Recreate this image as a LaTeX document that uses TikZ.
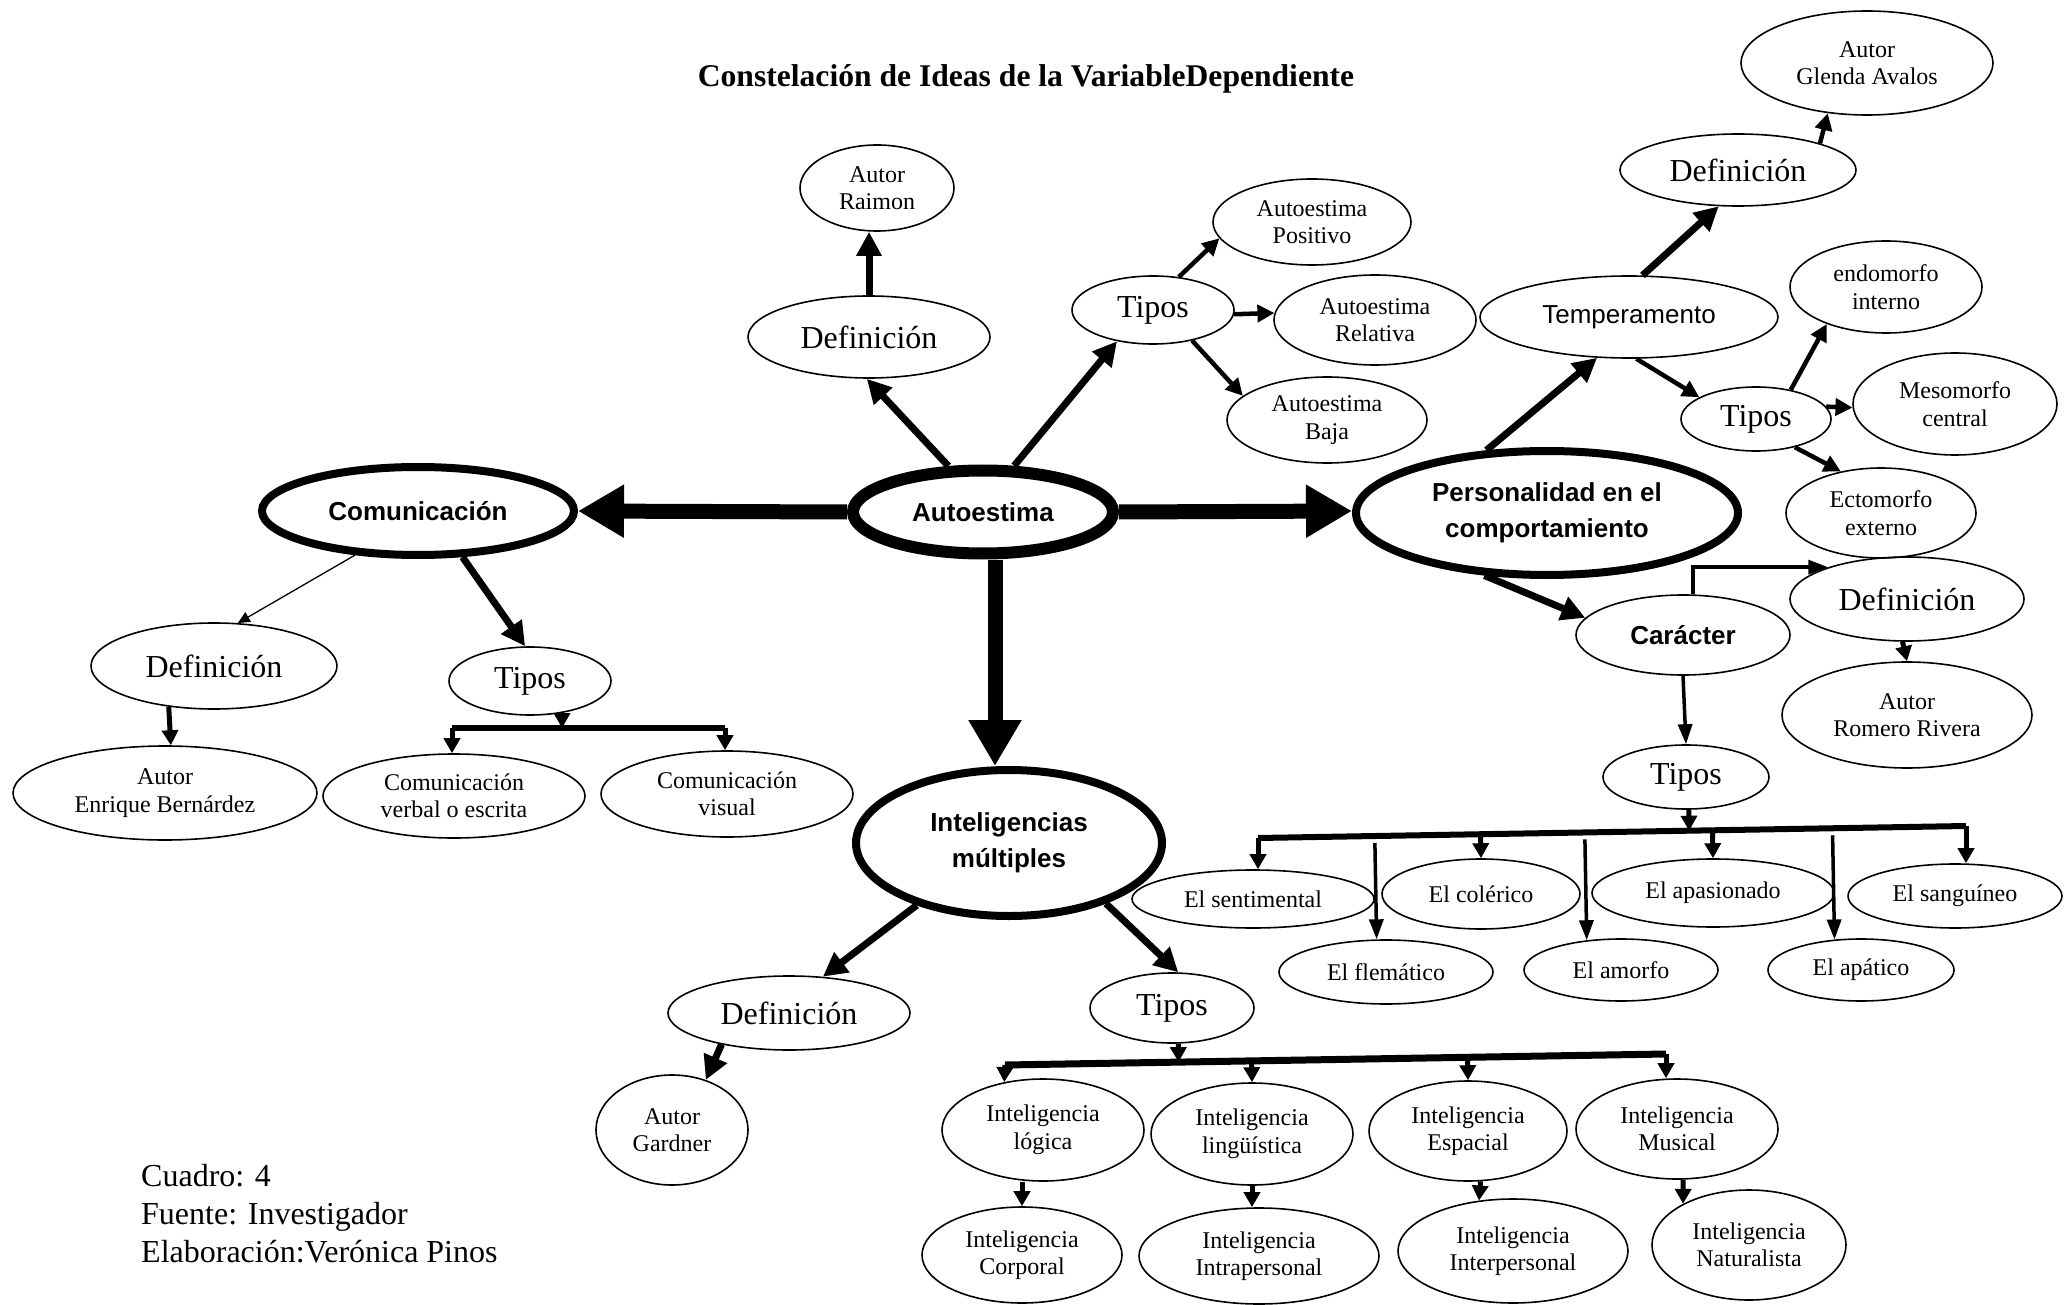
\documentclass[tikz,border=0pt]{standalone}
\usepackage{fontspec}
\setmainfont{Liberation Serif}
\setsansfont{Liberation Sans}
\usetikzlibrary{shapes.geometric,arrows.meta,calc}
\begin{document}
\begin{tikzpicture}[x=1pt,y=-1pt,
  ov/.style={ellipse,draw,line width=1.6pt,inner sep=0pt,align=center},
  sz/.style 2 args={minimum width=#1pt,minimum height=#2pt},
  big/.style={font=\fontsize{32}{36}\selectfont},
  sml/.style={font=\fontsize{24}{27.5}\selectfont},
  lbl/.style={font=\sffamily\bfseries\fontsize{26}{36}\selectfont},
  hub/.style={line width=8pt},
  abig/.style={line width=15pt,-{Triangle[length=46pt,width=50pt]}},
  amed/.style={line width=7pt,-{Triangle[length=24pt,width=24pt]}},
  asml/.style={line width=4.5pt,-{Triangle[length=17pt,width=17pt]}},
  astub/.style={line width=5pt,-{Triangle[length=15pt,width=16pt]}},
  athin/.style={line width=1.3pt,-{Triangle[length=12pt,width=11pt]}},
  along/.style={line width=3.5pt,-{Triangle[length=20pt,width=14pt]}},
  tbar/.style={line width=6pt}
]
\useasboundingbox (0,0) rectangle (2065,1305);
\fill[white] (0,0) rectangle (2065,1305);

\node[font=\bfseries\fontsize{31.6}{36}\selectfont] (title) at (1026,79) {Constelación de Ideas de la VariableDependiente};

% hubs
\node[ov,lbl,line width=12pt,sz={260}{83}] (auto) at (983,512) {Autoestima};
\node[ov,lbl,hub,sz={312}{88}] (com) at (418,511) {Comunicación};
\node[ov,lbl,hub,sz={382}{124}] (pers) at (1547,513) {Personalidad en el\\comportamiento};
\node[ov,lbl,hub,sz={306}{146}] (intm) at (1009,843) {Inteligencias\\múltiples};

% Autoestima branch
\node[ov,big,sz={242}{82}] (defA) at (869,337) {Definición};
\node[ov,sml,sz={154}{86}] (raimon) at (877,188) {Autor\\Raimon};
\node[ov,big,sz={162}{68}] (tiposA) at (1153,310) {Tipos};
\node[ov,sml,sz={198}{86}] (pos) at (1312,222) {Autoestima\\Positivo};
\node[ov,sml,sz={202}{90}] (rel) at (1375,320) {Autoestima\\Relativa};
\node[ov,sml,sz={200}{86}] (baja) at (1327,420) {Autoestima\\Baja};

% Comunicacion branch
\node[ov,big,sz={246}{86}] (defC) at (214,666) {Definición};
\node[ov,sml,sz={304}{94}] (enr) at (165,793) {Autor\\Enrique Bernárdez};
\node[ov,big,sz={162}{68}] (tiposC) at (530,681) {Tipos};
\node[ov,sml,sz={262}{84}] (verbal) at (454,796) {Comunicación\\verbal o escrita};
\node[ov,sml,sz={252}{86}] (visual) at (727,794) {Comunicación\\visual};

% Personalidad branch
\node[ov,font=\sffamily\fontsize{26}{30}\selectfont,sz={298}{82}] (temp) at (1629,317) {Temperamento};
\node[ov,big,sz={236}{72}] (defT) at (1738,170) {Definición};
\node[ov,sml,sz={252}{104}] (glenda) at (1867,63) {Autor\\Glenda Avalos};
\node[ov,big,sz={150}{64}] (tiposT) at (1756,419) {Tipos};
\node[ov,sml,sz={192}{92}] (endo) at (1886,287) {endomorfo\\interno};
\node[ov,sml,sz={204}{102}] (meso) at (1955,404) {Mesomorfo\\central};
\node[ov,sml,sz={190}{90}] (ecto) at (1881,513) {Ectomorfo\\externo};
\node[ov,lbl,sz={214}{80}] (car) at (1683,635) {Carácter};
\node[ov,big,sz={234}{84}] (defK) at (1907,599) {Definición};
\node[ov,sml,sz={250}{106}] (romero) at (1907,715) {Autor\\Romero Rivera};
\node[ov,big,sz={166}{64}] (tiposK) at (1686,777) {Tipos};
\node[ov,sml,sz={242}{58}] (sent) at (1253,899) {El sentimental};
\node[ov,sml,sz={198}{70}] (col) at (1481,894) {El colérico};
\node[ov,sml,sz={242}{68}] (apas) at (1713,893) {El apasionado};
\node[ov,sml,sz={214}{64}] (sang) at (1955,896) {El sanguíneo};
\node[ov,sml,sz={214}{64}] (flem) at (1386,972) {El flemático};
\node[ov,sml,sz={194}{62}] (amorfo) at (1621,970) {El amorfo};
\node[ov,sml,sz={186}{62}] (apat) at (1861,970) {El apático};

% Inteligencias branch
\node[ov,big,sz={242}{74}] (defI) at (789,1013) {Definición};
\node[ov,sml,sz={152}{110}] (gardner) at (672,1130) {Autor\\Gardner};
\node[ov,big,sz={164}{70}] (tiposI) at (1172,1008) {Tipos};
\node[ov,sml,sz={202}{102}] (logica) at (1043,1130) {Inteligencia\\lógica};
\node[ov,sml,sz={202}{102}] (ling) at (1252,1134) {Inteligencia\\lingüística};
\node[ov,sml,sz={198}{100}] (esp) at (1468,1131) {Inteligencia\\Espacial};
\node[ov,sml,sz={202}{100}] (mus) at (1677,1129) {Inteligencia\\Musical};
\node[ov,sml,sz={200}{96}] (corp) at (1022,1255) {Inteligencia\\Corporal};
\node[ov,sml,sz={240}{96}] (intra) at (1259,1256) {Inteligencia\\Intrapersonal};
\node[ov,sml,sz={230}{104}] (inter) at (1513,1251) {Inteligencia\\Interpersonal};
\node[ov,sml,sz={194}{110}] (nat) at (1749,1245) {Inteligencia\\Naturalista};

% footer
\node[anchor=north west,align=left,inner sep=0pt,font=\fontsize{32}{38}\selectfont] (foot) at (141,1164) {Cuadro: 4\\Fuente: Investigador\\Elaboración:Verónica Pinos};

% big arrows
\draw[abig] (auto.west) -- (com.east);
\draw[abig] (auto.east) -- ([yshift=2pt]pers.west);
\draw[abig] ([xshift=12pt]auto.south) -- ([xshift=-14pt]intm.north);

% Autoestima arrows
\draw[amed] (auto.127) -- (defA.267);
\draw[amed] (auto.56) -- (tiposA.221);
\draw[amed] (defA.north) -- (defA.north |- raimon.south);
\draw[asml] (tiposA.52) -- (pos.190);
\draw[asml] (tiposA.357) -- (rel.176);
\draw[asml] (tiposA.322) -- (baja.164);

% Comunicacion arrows
\draw[athin] (com.215) -- (defC.61);
\draw[amed] (com.314) -- (tiposC.98);
\draw[astub] (defC.222) -- (enr.83);
\coordinate (cL) at (452,728);
\coordinate (cR) at (725,728);
\draw[tbar] (cL) -- (cR);
\draw[astub] (tiposC.-45) -- (tiposC.-45 |- cL);
\draw[astub] (cL) -- (cL |- verbal.north);
\draw[astub] (cR) -- (cR |- visual.north);

% Personalidad arrows
\draw[amed] (pers.134) -- (temp.232);
\draw[amed] (temp.72) -- (defT.242);
\draw[asml] (defT.18) -- (glenda.232);
\draw[asml] (temp.-80) -- (tiposT.159);
\draw[asml] (tiposT.40) -- (endo.212);
\draw[asml] (tiposT.10) -- (meso.182);
\draw[asml] (tiposT.-36) -- (ecto.134);
\draw[amed] (pers.225) -- (car.170);
\draw[along] (car.76) |- (defK.158);
\draw[astub] (defK.-96) -- (romero.north);
\draw[along] (car.south) -- (tiposK.north);
\coordinate (kL) at (1258,838);
\coordinate (kR) at (1966,826);
\draw[tbar] (kL) -- (kR);
\draw[astub] (tiposK.-85) -- ($(kL)!(tiposK.-85)!(kR)$);
\draw[astub] (kL) -- (kL |- sent.north);
\draw[astub] ($(kL)!(col.north)!(kR)$) -- (col.north);
\draw[astub] ($(kL)!(apas.north)!(kR)$) -- (apas.north);
\draw[astub] (kR) -- (kR |- sang.north);
\draw[along] ($(kL)!(flem.106)!(kR)+(0,7)$) -- (flem.106);
\draw[along] ($(kL)!(amorfo.139)!(kR)+(0,7)$) -- (amorfo.139);
\draw[along] ($(kL)!(apat.131)!(kR)+(0,7)$) -- (apat.131);

% Inteligencias arrows
\draw[amed] (intm.214) -- (defI.47);
\draw[amed] (intm.328) -- (tiposI.80);
\draw[amed] (defI.205) -- (gardner.56);
\coordinate (iL) at (1005,1065);
\coordinate (iR) at (1666,1054);
\draw[tbar,line width=7pt] (iL) -- (iR);
\draw[astub] (tiposI.-80) -- ($(iL)!(tiposI.-80)!(iR)$);
\draw[astub] (iL) -- (logica.129);
\draw[astub] ($(iL)!(ling.north)!(iR)$) -- (ling.north);
\draw[astub] ($(iL)!(esp.north)!(iR)$) -- (esp.north);
\draw[astub] (iR) -- (iR |- mus.north);
\draw[astub] (logica.south -| corp.north) -- (corp.north);
\draw[astub] (ling.south) -- (ling.south |- intra.north);
\draw[astub] (esp.-76) -- (inter.124);
\draw[astub] (mus.-83) -- (nat.148);
\end{tikzpicture}
\end{document}
